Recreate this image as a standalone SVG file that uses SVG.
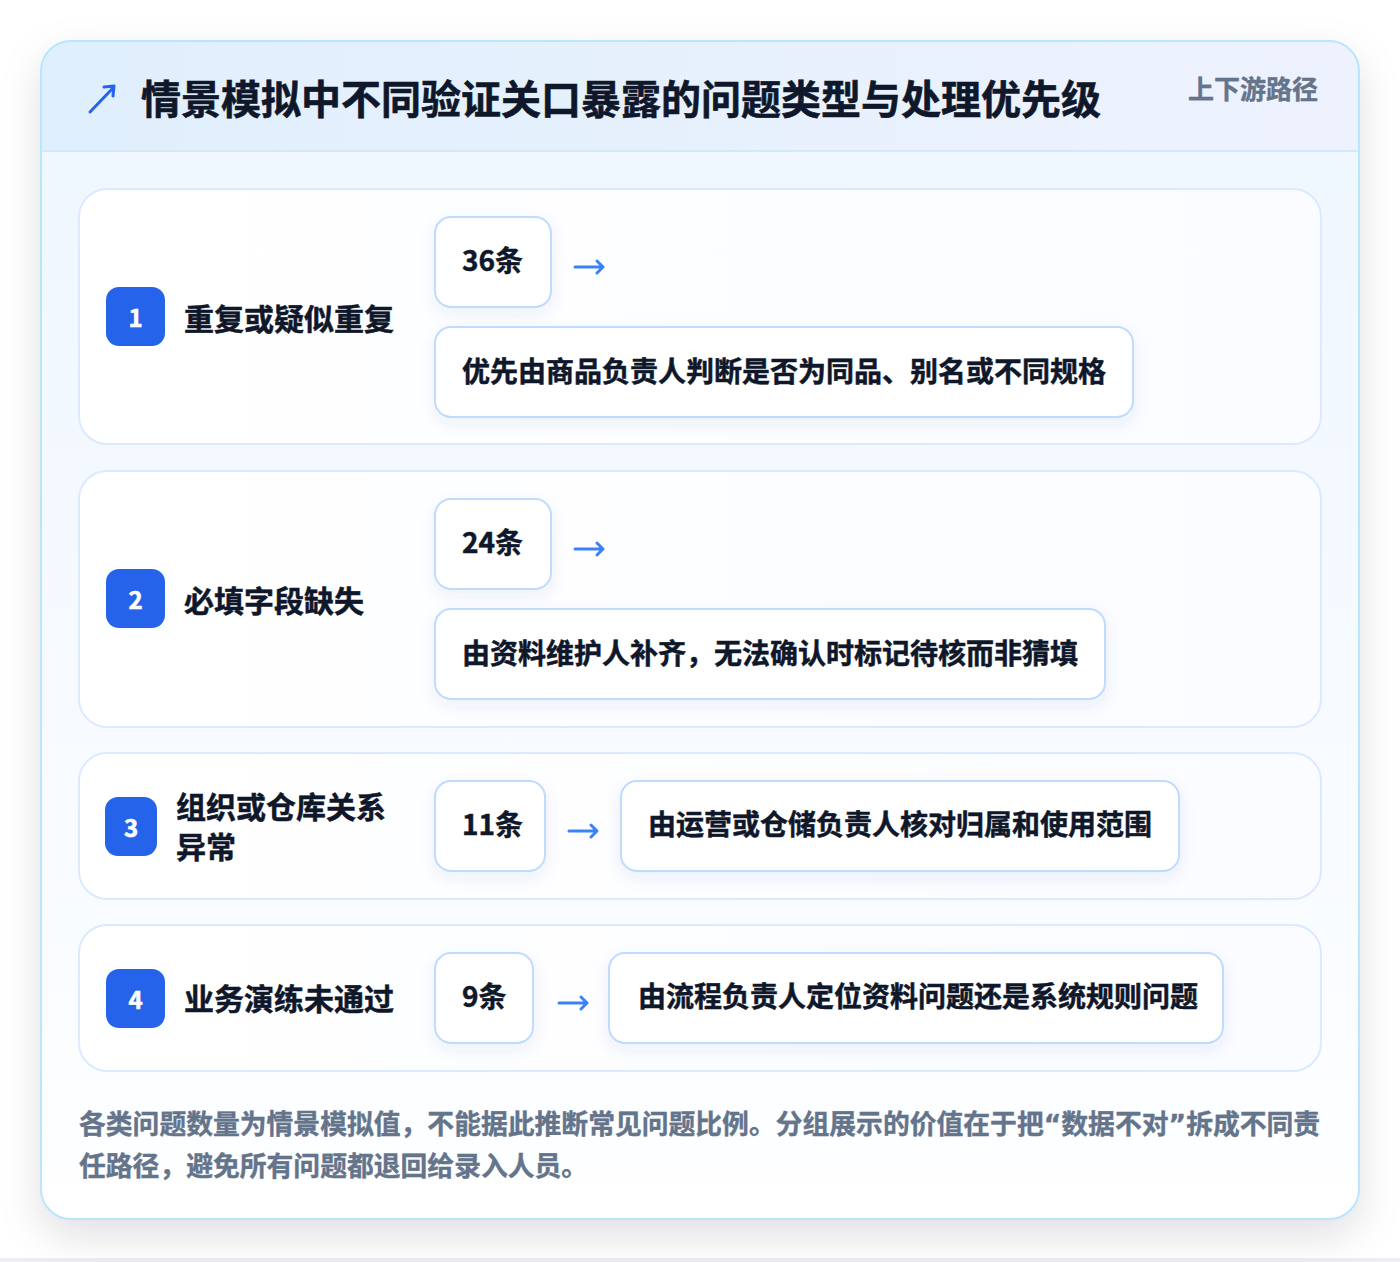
<svg xmlns="http://www.w3.org/2000/svg" width="1400" height="1262" viewBox="0 0 1400 1262">
<defs>
<linearGradient id="hdr" x1="0" y1="0" x2="1" y2="0">
<stop offset="0" stop-color="#e0effd"/>
<stop offset="1" stop-color="#eef2fe"/>
</linearGradient>
<linearGradient id="body" x1="0" y1="0" x2="0" y2="1">
<stop offset="0" stop-color="#eef6ff"/>
<stop offset="0.85" stop-color="#fbfdff"/>
<stop offset="1" stop-color="#ffffff"/>
</linearGradient>
<linearGradient id="row" x1="0" y1="0" x2="1" y2="0">
<stop offset="0" stop-color="#ffffff"/>
<stop offset="1" stop-color="#fafcff"/>
</linearGradient>
<filter id="cardShadow" x="-10%" y="-10%" width="120%" height="125%">
<feDropShadow dx="0" dy="16" stdDeviation="20" flood-color="#0f172a" flood-opacity="0.13"/>
</filter>
<filter id="boxShadow" x="-20%" y="-30%" width="140%" height="170%">
<feDropShadow dx="0" dy="6" stdDeviation="8" flood-color="#1e3a8a" flood-opacity="0.07"/>
</filter>
<clipPath id="cardClip"><rect x="41" y="41" width="1318" height="1178" rx="30"/></clipPath>
</defs>
<style>
.t{font-family:"Noto Sans CJK SC","Noto Sans",sans-serif;font-weight:700}
.h1{font-size:40px;fill:#0f172a;stroke:#0f172a;stroke-width:0.6px}
.tag{font-size:26px;fill:#64748b;stroke:#64748b;stroke-width:0.4px}
.rt{font-size:30px;fill:#0f172a;stroke:#0f172a;stroke-width:0.5px}
.bn{font-size:24px;fill:#ffffff;stroke:#ffffff;stroke-width:0.6px}
.ct{font-size:28px;fill:#0f172a;stroke:#0f172a;stroke-width:0.5px}
.ac{font-size:28px;fill:#0f172a;stroke:#0f172a;stroke-width:0.5px}
.ft{font-size:26.8px;fill:#64748b;stroke:#64748b;stroke-width:0.4px}
.q{font-family:"DejaVu Sans",sans-serif}
.rowbox{fill:url(#row);stroke:#dbeafe;stroke-width:2}
.box{fill:#ffffff;stroke:#bfdbfe;stroke-width:2}
.badge{fill:#2563eb}
.arr{fill:none;stroke:#3b82f6;stroke-width:3;stroke-linecap:round;stroke-linejoin:round}
</style>
<rect x="0" y="0" width="1400" height="1262" fill="#ffffff"/>
<rect x="0" y="1258" width="1400" height="4" fill="#eceef1"/>

<g id="card">
<rect x="41" y="41" width="1318" height="1178" rx="30" fill="#ffffff" filter="url(#cardShadow)"/>
<g clip-path="url(#cardClip)">
<rect x="41" y="41" width="1318" height="1178" fill="url(#body)"/>
<rect x="41" y="41" width="1318" height="110" fill="url(#hdr)"/>
<rect x="41" y="150" width="1318" height="2" fill="#d4e8fb"/>
</g>
<rect x="41" y="41" width="1318" height="1178" rx="30" fill="none" stroke="#bae6fd" stroke-width="2"/>
</g>

<g id="header">
<path d="M90 112 L113 88 M104 87 L114 86 L113 96" fill="none" stroke="#2563eb" stroke-width="3" stroke-linecap="round" stroke-linejoin="round"/>
<text class="t h1" x="141" y="114">情景模拟中不同验证关口暴露的问题类型与处理优先级</text>
<text class="t tag" x="1188" y="99">上下游路径</text>
</g>

<g id="row1">
<rect class="rowbox" x="79" y="189" width="1242" height="255" rx="28"/>
<rect class="badge" x="106" y="287" width="59" height="59" rx="13"/>
<text class="t bn" x="135.5" y="327" text-anchor="middle">1</text>
<text class="t rt" x="184" y="330">重复或疑似重复</text>
<g id="row1-count"><rect class="box" x="435" y="217" width="116" height="90" rx="16" filter="url(#boxShadow)"/>
<text class="t ct" x="462" y="271">36条</text></g>
<g id="row1-action"><rect class="box" x="435" y="327" width="698" height="90" rx="16" filter="url(#boxShadow)"/>
<text class="t ac" x="462" y="382">优先由商品负责人判断是否为同品、别名或不同规格</text></g>
</g>

<g id="row2">
<rect class="rowbox" x="79" y="471" width="1242" height="256" rx="28"/>
<rect class="badge" x="106" y="569" width="59" height="59" rx="13"/>
<text class="t bn" x="135.5" y="609" text-anchor="middle">2</text>
<text class="t rt" x="184" y="612">必填字段缺失</text>
<g id="row2-count"><rect class="box" x="435" y="499" width="116" height="90" rx="16" filter="url(#boxShadow)"/>
<text class="t ct" x="462" y="553">24条</text></g>
<g id="row2-action"><rect class="box" x="435" y="609" width="670" height="90" rx="16" filter="url(#boxShadow)"/>
<text class="t ac" x="462" y="664">由资料维护人补齐，无法确认时标记待核而非猜填</text></g>
</g>

<g id="row3">
<rect class="rowbox" x="79" y="753" width="1242" height="146" rx="28"/>
<rect class="badge" x="105" y="797" width="52" height="59" rx="13"/>
<text class="t bn" x="131" y="837" text-anchor="middle">3</text>
<text class="t rt" x="176" y="818">组织或仓库关系</text>
<text class="t rt" x="176" y="858">异常</text>
<g id="row3-count"><rect class="box" x="435" y="781" width="110" height="90" rx="16" filter="url(#boxShadow)"/>
<text class="t ct" x="462" y="835">11条</text></g>
<g id="row3-action"><rect class="box" x="621" y="781" width="558" height="90" rx="16" filter="url(#boxShadow)"/>
<text class="t ac" x="648" y="835">由运营或仓储负责人核对归属和使用范围</text></g>
</g>

<g id="row4">
<rect class="rowbox" x="79" y="925" width="1242" height="146" rx="28"/>
<rect class="badge" x="106" y="969" width="59" height="59" rx="13"/>
<text class="t bn" x="135.5" y="1009" text-anchor="middle">4</text>
<text class="t rt" x="184" y="1010">业务演练未通过</text>
<g id="row4-count"><rect class="box" x="435" y="953" width="98" height="90" rx="16" filter="url(#boxShadow)"/>
<text class="t ct" x="462" y="1007">9条</text></g>
<g id="row4-action"><rect class="box" x="609" y="953" width="614" height="90" rx="16" filter="url(#boxShadow)"/>
<text class="t ac" x="638" y="1007">由流程负责人定位资料问题还是系统规则问题</text></g>
</g>

<g id="connectors">
<path class="arr" d="M575 267 H603 M597 261 L603 267 L597 273"/>
<path class="arr" d="M575 549 H603 M597 543 L603 549 L597 555"/>
<path class="arr" d="M569 831 H597 M591 825 L597 831 L591 837"/>
<path class="arr" d="M559 1003 H587 M581 997 L587 1003 L581 1009"/>
</g>

<g id="footer">
<text class="t ft" x="79" y="1134">各类问题数量为情景模拟值，不能据此推断常见问题比例。分组展示的价值在于把<tspan class="q">“</tspan>数据不对<tspan class="q">”</tspan>拆成不同责</text>
<text class="t ft" x="79" y="1176">任路径，避免所有问题都退回给录入人员。</text>
</g>
</svg>
